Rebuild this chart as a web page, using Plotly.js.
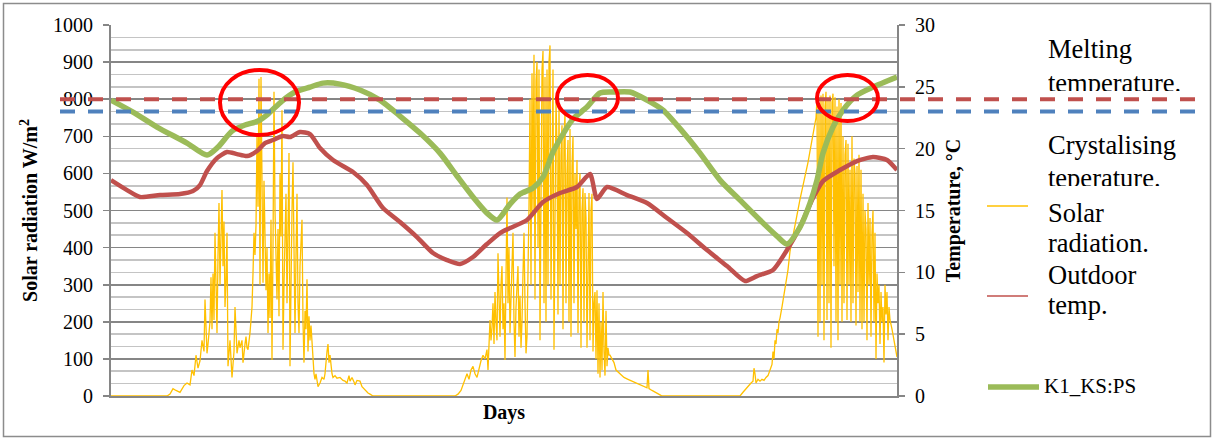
<!DOCTYPE html>
<html>
<head>
<meta charset="utf-8">
<script src="https://cdn.plot.ly/plotly-3.0.1.min.js"></script>
<style>
  html, body { margin: 0; padding: 0; background: #fff; }
  #chart { width: 1215px; height: 440px; }
</style>
</head>
<body>
<div id="chart"></div>
<script>
// Time axis in hours from the start of the record
const solarHours = [
  0,56,59,62,65,69,73,76,79,81,83,85,87,89,91,93,94,96,97,99,100,101,102,103,104,105,106,107,108,109,110,111,112,113,114,115,116,117,119,121,123,124,125,126,128,129,131,132,134,135,136,137,139,141,142,143,144,145,146,147,148,149,150,151,152,153,154,155,156,157,158,159,160,161,162,163,164,165,166,167,168,169,170,171,172,173,174,175,176,177,178,179,180,181,182,183,184,185,186,187,188,189,190,191,192,193,194,195,196,197,198,199,200,201,202,203,204,205,207,209,211,213,214,215,216,217,218,219,220,221,222,224,226,229,232,234,236,238,239,241,243,244,246,249,251,254,257,259,262,
  344,347,350,353,356,358,360,362,364,366,368,370,372,374,376,377,379,380,381,382,383,384,385,386,387,388,389,390,391,392,393,394,395,396,397,398,399,400,401,402,403,404,405,406,407,408,409,410,411,412,413,414,415,416,417,418,419,420,421,422,423,424,425,426,427,428,429,430,431,432,433,434,435,436,437,438,439,440,441,442,443,444,445,446,447,448,449,450,451,452,453,454,455,456,457,458,459,460,461,462,463,464,465,466,467,468,469,470,471,472,473,474,475,476,477,478,479,480,481,482,483,484,485,486,487,488,489,490,491,492,493,494,495,496,497,498,499,501,503,505,507,509,513,517,521,525,529,533,536,537,538,541,545,549,551,
  629,632,635,638,640,642,643,644,645,647,649,651,653,655,657,659,661,662,663,664,665,666,667,668,669,671,673,675,677,679,681,683,685,687,689,691,693,695,697,699,701,703,705,706,707,708,709,710,711,712,713,714,715,716,717,718,719,720,721,722,723,724,725,726,727,728,729,730,731,732,733,734,735,736,737,738,739,740,741,742,743,744,745,746,747,748,749,750,751,752,753,754,755,756,757,758,759,760,761,762,763,764,765,766,767,768,769,770,771,772,773,774,775,776,777,778,779,781,783,785,786
];
// Solar radiation, W/m2
const solarWm2 = [
  0,0,5,20,15,10,28,35,30,70,55,110,75,95,150,120,260,115,140,200,320,180,330,205,440,280,170,380,520,300,420,555,350,470,240,310,440,80,150,50,120,240,180,115,150,130,150,90,140,160,130,125,170,240,330,440,380,460,700,510,855,300,860,500,305,580,360,285,400,170,330,210,475,97,400,820,500,320,260,450,215,600,430,770,125,300,400,545,250,400,655,80,350,500,630,300,170,380,545,250,170,350,420,475,200,90,230,180,315,120,215,150,190,140,80,60,45,60,25,35,50,45,60,100,120,140,90,110,80,60,50,55,48,50,42,40,35,55,40,50,38,30,42,40,25,15,8,5,0,
  0,5,15,35,60,45,70,80,60,50,75,95,110,100,125,70,205,150,185,250,140,280,200,150,385,250,160,300,350,180,250,97,300,535,250,400,170,280,330,440,200,105,240,300,350,160,270,130,200,330,440,250,115,160,300,510,800,300,870,500,920,260,850,900,400,880,150,600,880,930,250,860,200,880,300,900,945,260,700,880,125,600,800,670,220,790,300,650,730,180,700,760,250,600,690,200,720,160,620,700,250,600,450,636,170,550,600,130,500,560,200,547,480,130,420,547,150,500,545,120,250,280,100,285,60,250,50,200,70,280,120,55,230,80,130,110,110,100,90,70,65,60,50,45,40,35,30,25,22,70,20,15,8,3,0,
  0,10,20,30,35,40,75,60,35,45,40,45,42,50,55,70,85,120,100,150,140,180,170,200,210,240,270,300,340,390,420,450,475,500,530,555,580,600,630,660,690,720,750,800,160,780,200,810,300,815,150,780,820,205,800,250,810,130,790,815,350,805,200,780,150,800,300,790,200,700,250,650,690,205,680,300,610,200,700,250,640,600,190,620,280,650,200,610,180,545,200,500,450,150,520,300,480,160,440,500,200,440,100,330,250,300,140,280,200,240,90,300,220,280,150,240,205,180,150,120,105
];

// Outdoor air temperature, deg C
const outdoorHours = [0,16,29,49,69,82,89,96,106,116,126,136,146,154,162,172,179,189,199,209,222,242,256,272,289,306,322,336,349,362,376,389,399,416,432,449,466,479,486,496,516,536,556,576,596,616,634,646,662,676,689,702,712,729,746,762,776,786];
const outdoorTemp = [17.46,16.65,16.09,16.25,16.33,16.57,17.06,18.19,19.24,19.73,19.56,19.40,19.81,20.45,20.70,21.02,20.94,21.34,21.18,20.05,19.08,18.11,17.06,15.20,14.07,12.85,11.56,10.99,10.67,11.24,12.29,13.18,13.58,14.23,15.68,16.41,16.90,17.95,15.93,16.90,16.25,15.60,14.39,13.18,11.80,10.51,9.30,9.70,10.19,11.80,13.66,16.01,17.38,18.27,19.00,19.32,19.08,18.27];

// Room temperature for case K1_KS:PS, deg C
const k1Hours = [0,22,46,76,96,107,121,134,147,157,171,184,199,212,229,249,269,289,309,329,346,362,376,386,399,409,422,432,442,452,462,476,489,502,519,536,552,572,589,609,629,649,666,676,689,699,706,712,722,732,746,762,786];
const k1Temp = [23.93,22.96,21.75,20.45,19.48,20.13,21.42,21.91,22.23,22.80,23.85,24.58,24.98,25.30,25.22,24.74,23.93,22.64,21.26,19.64,17.79,16.09,14.79,14.23,15.52,16.33,16.82,17.70,19.73,21.18,22.40,23.36,24.50,24.58,24.58,23.93,23.12,21.34,19.64,17.46,15.84,14.23,12.93,12.29,13.66,15.60,17.46,19.64,21.75,23.12,24.33,24.98,25.79];

// PCM phase-change thresholds, deg C
const meltingTemp = 24;
const crystallisingTemp = 23;

// Legend rows
const legendLabels = {
  melting: ['Melting', 'temperature.'],
  crystal: ['Crystalising', 'teperature.'],
  solar: ['Solar', 'radiation.'],
  outdoor: ['Outdoor', 'temp.'],
  k1: ['K1_KS:PS']
};

const SERIF = 'Liberation Serif, Times New Roman, serif';
const C_SOLAR = '#FFC000', C_OUT = '#C0504D', C_K1 = '#9BBB59', C_CRYST = '#4F81BD';

// plot area in page pixels: left 111, right 897, top 25, bottom 396
const L = 111, R = 897, T = 25, B = 396;
const px = v => (v - L) / (R - L);
const py = v => (B - v) / (B - T);

const traces = [
  { x: solarHours, y: solarWm2, type: 'scatter', mode: 'lines', yaxis: 'y',
    line: { color: C_SOLAR, width: 1.3 }, name: 'Solar radiation.' },
  { x: outdoorHours, y: outdoorTemp, type: 'scatter', mode: 'lines', yaxis: 'y2',
    line: { color: C_OUT, width: 4.5, shape: 'spline', smoothing: 0.6 }, name: 'Outdoor temp.' },
  { x: k1Hours, y: k1Temp, type: 'scatter', mode: 'lines', yaxis: 'y2',
    line: { color: C_K1, width: 5.5, shape: 'spline', smoothing: 0.7 }, name: 'K1_KS:PS' }
];

const annotations = [];
// legend text row; a row given a clip height is cut just under its baseline
function label(text, xPix, yPix, size, clipH) {
  const a = { xref: 'paper', yref: 'paper', x: px(xPix), y: py(yPix),
    xanchor: 'left', yanchor: 'middle', showarrow: false, text: text,
    font: { family: SERIF, size: size, color: '#000' } };
  if (clipH) { a.height = clipH; a.valign = 'top'; a.yanchor = 'top'; a.y = py(yPix - 13); }
  annotations.push(a);
}
label(legendLabels.melting[0], 1046, 49, 26.5);
label(legendLabels.melting[1], 1046, 79, 26.5, 23);
label(legendLabels.crystal[0], 1046, 145, 26.5);
label(legendLabels.crystal[1], 1046, 174, 26.5, 23);
label(legendLabels.solar[0], 1046, 213, 26.5);
label(legendLabels.solar[1], 1046, 243, 26.5);
label(legendLabels.outdoor[0], 1046, 275, 26.5);
label(legendLabels.outdoor[1], 1046, 305, 26.5);
label(legendLabels.k1[0], 1042, 386, 21);

const shapes = [
  // outer frame
  { type: 'rect', xref: 'paper', yref: 'paper', x0: px(3.5), x1: px(1210.5), y0: py(436.5), y1: py(3.5),
    line: { color: '#8C8C8C', width: 1.5 }, layer: 'below' },
  // phase-change thresholds
  { type: 'line', xref: 'paper', yref: 'y2', x0: px(60), x1: px(1196), y0: meltingTemp, y1: meltingTemp,
    line: { color: C_OUT, width: 4, dash: '15px,13px' } },
  { type: 'line', xref: 'paper', yref: 'y2', x0: px(60), x1: px(1196), y0: crystallisingTemp, y1: crystallisingTemp,
    line: { color: C_CRYST, width: 4, dash: '15px,13px' } },
  // highlighted melting events
  { type: 'circle', xref: 'paper', yref: 'paper', x0: px(220), x1: px(299), y0: py(135), y1: py(70),
    line: { color: '#FF0000', width: 4 } },
  { type: 'circle', xref: 'paper', yref: 'paper', x0: px(557), x1: px(618), y0: py(121), y1: py(75),
    line: { color: '#FF0000', width: 4 } },
  { type: 'circle', xref: 'paper', yref: 'paper', x0: px(817), x1: px(878), y0: py(121), y1: py(75),
    line: { color: '#FF0000', width: 4 } },
  // legend keys
  { type: 'line', xref: 'paper', yref: 'paper', x0: px(987), x1: px(1028), y0: py(206), y1: py(206),
    line: { color: C_SOLAR, width: 1.5 } },
  { type: 'line', xref: 'paper', yref: 'paper', x0: px(987), x1: px(1028), y0: py(296), y1: py(296),
    line: { color: C_OUT, width: 1.5 } },
  { type: 'line', xref: 'paper', yref: 'paper', x0: px(988), x1: px(1039), y0: py(387), y1: py(387),
    line: { color: C_K1, width: 5.5 } }
];

const tickFont = { family: SERIF, size: 20, color: '#000' };
const titleFont = { family: SERIF, size: 20, color: '#000', weight: 'bold' };
const layout = {
  width: 1215, height: 440,
  margin: { l: L, r: 1215 - R, t: T, b: 440 - B, pad: 0 },
  paper_bgcolor: '#fff', plot_bgcolor: '#fff',
  font: { family: SERIF, color: '#000' },
  showlegend: false,
  xaxis: {
    range: [0, 786], showgrid: false, zeroline: false, showticklabels: false, ticks: '',
    showline: true, linecolor: '#868686', linewidth: 2,
    title: { text: 'Days', font: titleFont, standoff: 8 }
  },
  yaxis: {
    range: [0, 1000], dtick: 100, tick0: 0,
    showgrid: true, gridcolor: '#868686', gridwidth: 1.6, zeroline: false,
    minor: { dtick: 100 / 3, tick0: 0, showgrid: true, gridcolor: '#C4C4C4', gridwidth: 1.6, ticks: '' },
    showline: true, linecolor: '#868686', linewidth: 2,
    ticks: 'outside', ticklen: 6, tickwidth: 1.6, tickcolor: '#868686',
    tickfont: tickFont, ticklabelstandoff: 6,
    title: { text: 'Solar radiation W/m<sup>2</sup>', font: titleFont, standoff: 10 }
  },
  yaxis2: {
    overlaying: 'y', side: 'right', range: [0, 30], dtick: 5, tick0: 0,
    showgrid: false, zeroline: false,
    showline: true, linecolor: '#868686', linewidth: 2,
    ticks: 'outside', ticklen: 6, tickwidth: 1.6, tickcolor: '#868686',
    tickfont: tickFont, ticklabelstandoff: 6,
    title: { text: 'Temperature, °C', font: titleFont, standoff: 12 }
  },
  shapes: shapes,
  annotations: annotations
};

Plotly.newPlot('chart', traces, layout, { displayModeBar: false, staticPlot: true });
</script>
</body>
</html>
